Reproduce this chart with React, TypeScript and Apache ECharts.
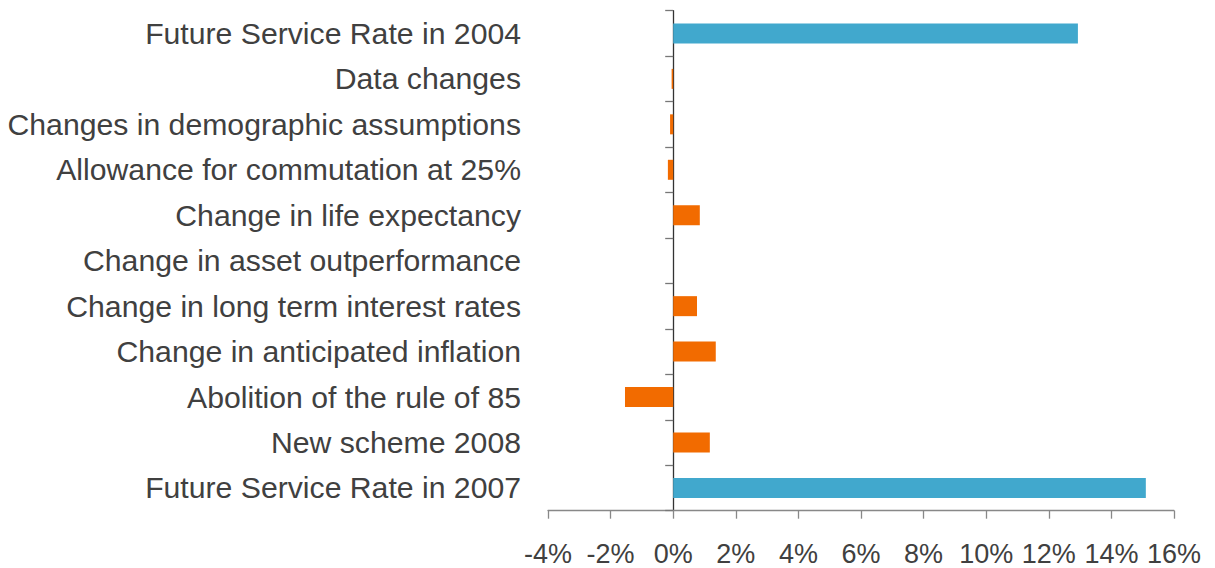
import React, { useEffect, useRef } from "react";
import * as echarts from "echarts";

const categories = [
  "Future Service Rate in 2004",
  "Data changes",
  "Changes in demographic assumptions",
  "Allowance for commutation at 25%",
  "Change in life expectancy",
  "Change in asset outperformance",
  "Change in long term interest rates",
  "Change in anticipated inflation",
  "Abolition of the rule of 85",
  "New scheme 2008",
  "Future Service Rate in 2007",
];

const values = [12.93, -0.05, -0.1, -0.17, 0.85, 0, 0.76, 1.36, -1.54, 1.17, 15.1];
const isTotal = [true, false, false, false, false, false, false, false, false, false, true];

const totalColor = "#41A8CD";
const changeColor = "#F26B00";
const textColor = "#404040";

export default function App() {
  const ref = useRef<HTMLDivElement>(null);
  useEffect(() => {
    if (!ref.current) return;
    const chart = echarts.init(ref.current, undefined, { renderer: "svg" });
    chart.setOption({
      animation: false,
      backgroundColor: "#ffffff",
      grid: { left: 548, right: 41, top: 10.7, bottom: 57.3, containLabel: false },
      xAxis: {
        type: "value",
        min: -4,
        max: 16,
        interval: 2,
        axisLine: { show: true, lineStyle: { color: "#888888", width: 1.3 } },
        axisTick: { show: true, length: 8, lineStyle: { color: "#888888", width: 1.3 } },
        splitLine: { show: false },
        axisLabel: {
          formatter: "{value}%",
          fontSize: 27,
          color: textColor,
          fontFamily: "Arial, 'Liberation Sans', sans-serif",
          margin: 30,
        },
      },
      yAxis: [
        {
          type: "category",
          data: categories,
          inverse: true,
          position: "left",
          axisLine: { show: true, onZero: true, lineStyle: { color: "#333333", width: 1.3 } },
          axisTick: { show: true, length: 8, lineStyle: { color: "#777777", width: 1.3 } },
          axisLabel: { show: false },
          splitLine: { show: false },
        },
        {
          type: "category",
          data: categories,
          inverse: true,
          position: "left",
          axisLine: { show: false, onZero: false },
          axisTick: { show: false },
          splitLine: { show: false },
          axisLabel: {
            show: true,
            fontSize: 30.2,
            color: textColor,
            fontFamily: "Arial, 'Liberation Sans', sans-serif",
            margin: 27,
          },
        },
      ],
      series: [
        {
          type: "bar",
          yAxisIndex: 0,
          barWidth: 20,
          data: values.map((v, i) => ({
            value: v,
            itemStyle: { color: isTotal[i] ? totalColor : changeColor },
          })),
        },
      ],
    });
    return () => chart.dispose();
  }, []);
  return (
    <div
      ref={ref}
      style={{ position: "fixed", left: 0, top: 0, width: 1215, height: 568, background: "#fff" }}
    />
  );
}
